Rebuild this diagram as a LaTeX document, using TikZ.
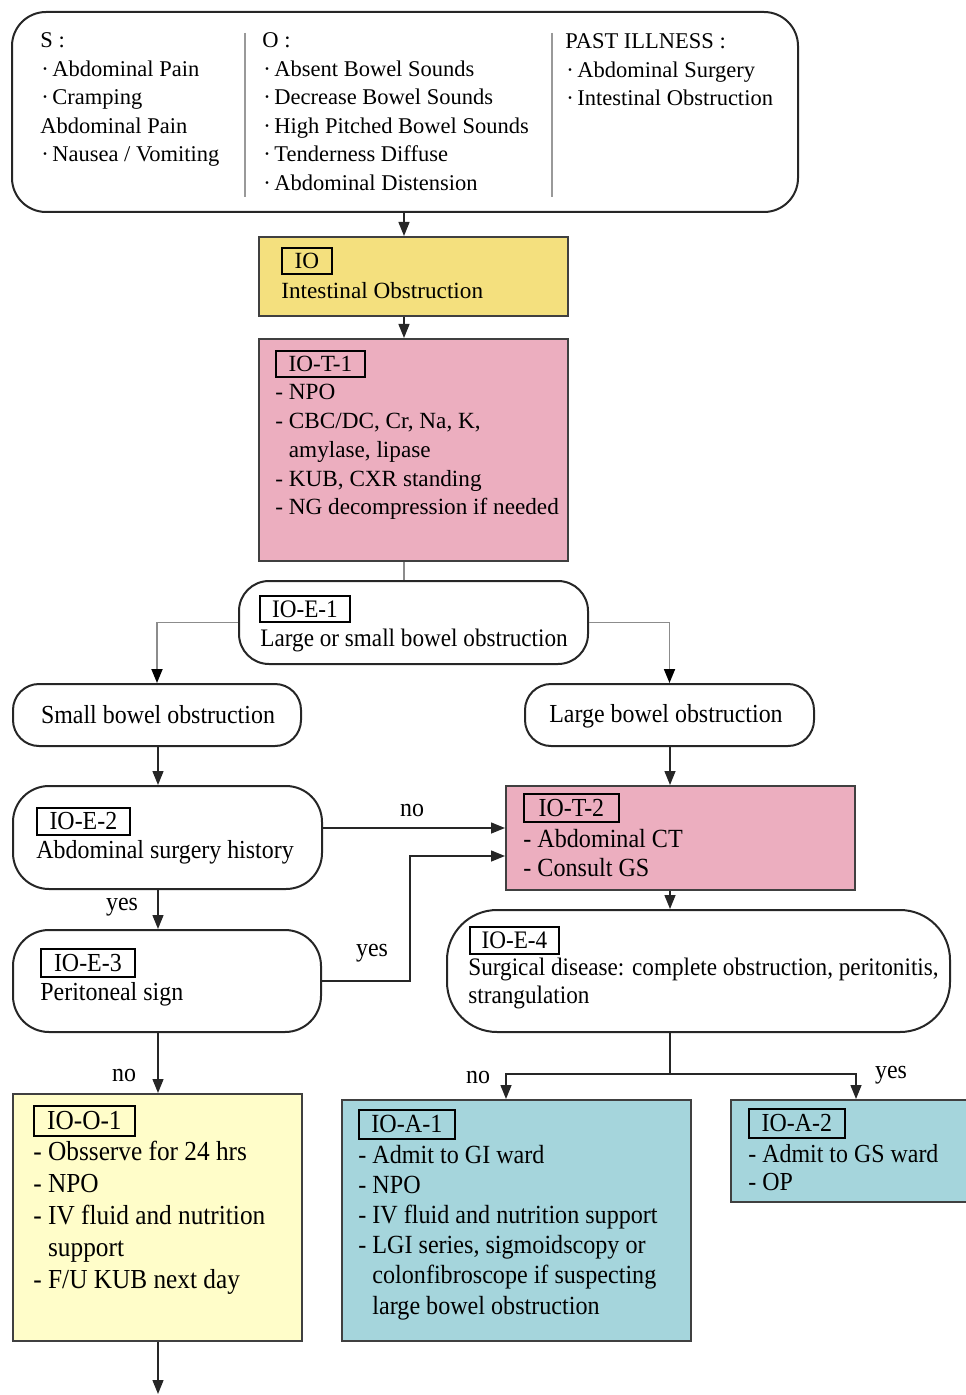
\documentclass[tikz,border=0pt]{standalone}
\usepackage{fontspec}
\setmainfont{Liberation Serif}
\newfontfamily\condfont[FakeStretch=0.92]{Liberation Serif}
\usetikzlibrary{arrows.meta,fit}
\definecolor{ioyel}{HTML}{F4E07E}
\definecolor{iopink}{HTML}{ECAEBF}
\definecolor{ioltyel}{HTML}{FFFDC9}
\definecolor{ioblue}{HTML}{A5D5DC}
\newcommand\fa{\fontsize{11.25pt}{14pt}\selectfont}
\newcommand\fb{\fontsize{11.6pt}{14pt}\selectfont}
\newcommand\fc[1]{\condfont\fontsize{#1}{15pt}\selectfont}
\newcommand\bul{\makebox[6pt][l]{\hspace{0.5pt}·}}
\newcommand\tlines[6]{\foreach \t [count=\i] in {#6} {\node[txt,font=#5] (#1\i) at (#2,{#3+(\i-1)*#4}) {\t};}}
\begin{document}
\begin{tikzpicture}[x=0.5pt,y=-0.5pt,
  rbox/.style={draw=black!85, line width=1pt, rounded corners=#1, inner sep=0pt},
  sbox/.style={draw=black!75, line width=1pt, inner sep=0pt, fill=#1},
  lab/.style={draw=black, line width=0.9pt, inner sep=0pt, anchor=north west, minimum width=#1},
  txt/.style={anchor=base west, inner sep=0pt},
  ctxt/.style={anchor=base, inner sep=0pt},
  elab/.style={inner sep=0pt, font=\fc{13pt}},
  conn/.style={draw=black!85, line width=0.7pt},
  gconn/.style={draw=black!45, line width=0.9pt},
  arr/.style={conn, -{Triangle[length=7pt,width=5.5pt]}},
  garr/.style={gconn, -{Triangle[length=7pt,width=5.5pt,color=black]}}
]
\useasboundingbox (0,0) rectangle (965,1395);
% reference coordinates
\coordinate (cA) at (404,0);
\coordinate (cL) at (158,0);
\coordinate (cR) at (670,0);
\coordinate (cN) at (506,0);
\coordinate (cY) at (856,0);
\coordinate (cJ) at (410,0);
\coordinate (yno) at (0,828);
\coordinate (yyes) at (0,856);
\coordinate (ys) at (0,1074);
\coordinate (cEnd) at (158,1394);

% top box
\node[rbox=17pt, fit={(12,12)(798,212)}] (top) {};
\draw[draw=black!40, line width=0.8pt] (245,33) coordinate (d1a) -- (245,197) coordinate (d1b);
\draw[draw=black!40, line width=0.8pt] (552,33) coordinate (d2a) -- (552,197) coordinate (d2b);
\tlines{s}{40}{48}{28.5}{\fa}{{S :},{\bul Abdominal Pain},{\bul Cramping},{Abdominal Pain},{\bul Nausea / Vomiting}}
\tlines{o}{262}{48}{28.5}{\fa}{{O :},{\bul Absent Bowel Sounds},{\bul Decrease Bowel Sounds},{\bul High Pitched Bowel Sounds},{\bul Tenderness Diffuse},{\bul Abdominal Distension}}
\tlines{p}{565}{49}{28.3}{\fa}{{PAST ILLNESS :},{\bul Abdominal Surgery},{\bul Intestinal Obstruction}}

% IO
\node[sbox=ioyel, fit={(259,237)(568,316)}] (io) {};
\node[lab=25pt, minimum height=13pt, font=\fb] (iol) at (281,247) {IO};
\node[txt, font=\fb] (iot) at (281,299) {Intestinal Obstruction};

% IO-T-1
\node[sbox=iopink, fit={(259,339)(568,561)}] (t1) {};
\node[lab=44.5pt, minimum height=13pt, font=\fb] (t1l) at (275,350) {IO-T-1};
\tlines{ta}{275}{400}{28.7}{\fb}{{- NPO},{- CBC/DC, Cr, Na, K,},{\hphantom{- }amylase, lipase},{- KUB, CXR standing},{- NG decompression if needed}}

% IO-E-1
\node[rbox=15pt, fit={(239,581)(588,664)}] (e1) {};
\node[lab=45pt, minimum height=13pt, font=\fc{12.6pt}] (e1l) at (259,595) {IO-E-1};
\node[txt, font=\fc{12.6pt}] (e1t) at (260,646) {Large or small bowel obstruction};

% small / large bowel
\node[rbox=13pt, fit={(13,684)(301,746)}] (sb) {};
\node[ctxt, font=\fc{13pt}] (sbt) at (158,723) {Small bowel obstruction};
\node[rbox=13pt, fit={(525,684)(814,746)}] (lb) {};
\node[ctxt, font=\fc{13pt}] (lbt) at (666,722) {Large bowel obstruction};

% IO-E-2
\node[rbox=18pt, fit={(13,786)(322,889)}] (e2) {};
\node[lab=46.5pt, minimum height=13.5pt, font=\fc{13pt}] (e2l) at (36,807) {IO-E-2};
\node[txt, font=\fc{13pt}] (e2t) at (36,858) {Abdominal surgery history};

% IO-T-2
\node[sbox=iopink, fit={(506,786)(855,890)}] (t2) {};
\node[lab=47.5pt, minimum height=14pt, font=\fc{13pt}] (t2l) at (523,793) {IO-T-2};
\tlines{tb}{523}{847}{29}{\fc{13.1pt}}{{- Abdominal CT},{- Consult GS}}

% IO-E-3
\node[rbox=18pt, fit={(13,930)(321,1032)}] (e3) {};
\node[lab=47pt, minimum height=14pt, font=\fc{13pt}] (e3l) at (40,948) {IO-E-3};
\node[txt, font=\fc{13pt}] (e3t) at (40,1000) {Peritoneal sign};

% IO-E-4
\node[rbox=25pt, fit={(447,910)(950,1032)}] (e4) {};
\node[lab=44.5pt, minimum height=13.5pt, font=\fc{12.6pt}] (e4l) at (469,926) {IO-E-4};
\tlines{eb}{468}{975}{28.5}{\fc{12.6pt}}{{Surgical disease: complete obstruction, peritonitis,},{strangulation}}

% IO-O-1
\node[sbox=ioltyel, fit={(13,1094)(302,1341)}] (o1) {};
\node[lab=50.5pt, minimum height=15pt, font=\fc{13.75pt}] (o1l) at (33,1105) {IO-O-1};
\tlines{oa}{33}{1160}{32}{\fc{13.75pt}}{{- Obsserve for 24 hrs},{- NPO},{- IV fluid and nutrition},{\hphantom{- }support},{- F/U KUB next day}}

% IO-A-1
\node[sbox=ioblue, fit={(342,1100)(691,1341)}] (a1) {};
\node[lab=48pt, minimum height=14.5pt, font=\fc{13.1pt}] (a1l) at (358,1109) {IO-A-1};
\tlines{aa}{358}{1163}{30.2}{\fc{13.1pt}}{{- Admit to GI ward},{- NPO},{- IV fluid and nutrition support},{- LGI series, sigmoidscopy or},{\hphantom{- }colonfibroscope if suspecting},{\hphantom{- }large bowel obstruction}}

% IO-A-2
\node[sbox=ioblue, fit={(731,1100)(980,1202)}] (a2) {};
\node[lab=48pt, minimum height=14.5pt, font=\fc{13pt}] (a2l) at (748,1108) {IO-A-2};
\tlines{ab}{748}{1162}{28}{\fc{13pt}}{{- Admit to GS ward},{- OP}}

% connectors
\draw[arr] (top.south -| cA) -- (io.north -| cA);
\draw[arr] (io.south -| cA) -- (t1.north -| cA);
\draw[gconn] (t1.south -| cA) -- (e1.north -| cA);
\draw[garr] (e1.west) -| (sb.north);
\draw[garr] (e1.east) -| (lb.north);
\draw[arr] (sb.south -| cL) -- (e2.north -| cL);
\draw[arr] (lb.south -| cR) -- (t2.north -| cR);
\draw[arr] (e2.east |- yno) -- (t2.west |- yno);
\node[elab] (lno1) at (412,810) {no};
\draw[arr] (e2.south -| cL) -- (e3.north -| cL);
\node[elab] (lyes1) at (122,907) {yes};
\draw[arr] (e3.east) -- (e3.east -| cJ) -- (cJ |- yyes) -- (t2.west |- yyes);
\node[elab] (lyes2) at (372,953) {yes};
\draw[arr] (t2.south -| cR) -- (e4.north -| cR);
\draw[conn] (e4.south -| cR) -- (cR |- ys);
\draw[arr] (cR |- ys) -| (a1.north -| cN);
\draw[arr] (cR |- ys) -| (a2.north -| cY);
\node[elab] (lno3) at (478,1077) {no};
\node[elab] (lyes3) at (891,1075) {yes};
\draw[arr] (e3.south -| cL) -- (o1.north -| cL);
\node[elab] (lno2) at (124,1075) {no};
\draw[arr] (o1.south -| cL) -- (cEnd);
\end{tikzpicture}
\end{document}
